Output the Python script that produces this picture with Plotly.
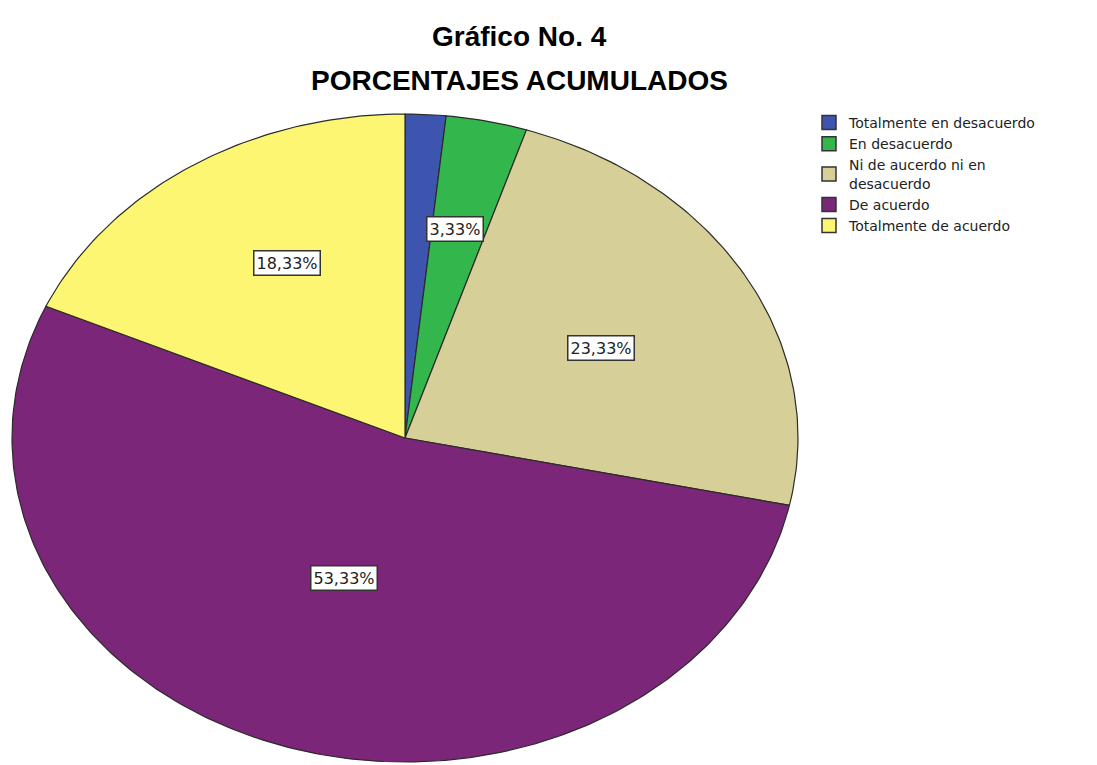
import numpy as np
import plotly.graph_objects as go

# Respuestas (porcentaje de encuestados, n = 60)
categorias = [
    "Totalmente en desacuerdo",
    "En desacuerdo",
    "Ni de aucerdo ni en desacuerdo",
    "De acuerdo",
    "Totalmente de acuerdo",
]
porcentajes = [1.67, 3.33, 23.33, 53.33, 18.33]
mostrar_etiqueta = [False, True, True, True, True]

# Estilo
colores = ["#3d55ae", "#33b64b", "#d6cf98", "#7b2678", "#fcf672"]
radio_etiqueta = [0.65, 0.657, 0.571, 0.459, 0.618]
desfase_etiqueta = [0.0, -0.9, 0.9, 1.7, 4.0]   # grados respecto al centro del sector

W, H = 1097, 765
cx, cy = 405, 438          # centro del pastel en píxeles
rx, ry = 393, 324          # semiejes del pastel en píxeles

fig = go.Figure()

total = sum(porcentajes)
acum = 0.0
for nombre, valor, color, mostrar, fr, dg in zip(categorias, porcentajes, colores,
                                                 mostrar_etiqueta, radio_etiqueta,
                                                 desfase_etiqueta):
    a0 = acum / total * 2 * np.pi
    acum += valor
    a1 = acum / total * 2 * np.pi
    n = max(4, int(np.ceil((a1 - a0) / (2 * np.pi) * 400)))
    t = np.linspace(a0, a1, n)
    xs = np.concatenate([[0], np.sin(t), [0]])
    ys = np.concatenate([[0], np.cos(t), [0]])
    fig.add_trace(go.Scatter(
        x=xs, y=ys, mode="lines", fill="toself", fillcolor=color,
        line=dict(color="#2b2b2b", width=1.2), showlegend=False,
        hoverinfo="skip",
    ))
    # entrada de leyenda
    fig.add_trace(go.Scatter(
        x=[None], y=[None], mode="markers", name=nombre.replace("ni en ", "ni en<br>"),
        marker=dict(symbol="square", size=14, color=color,
                    line=dict(color="#333333", width=1.5)),
    ))
    if mostrar:
        am = (a0 + a1) / 2 + np.radians(dg)
        texto = f"{valor:.2f}".replace(".", ",") + "%"
        fig.add_annotation(
            x=fr * np.sin(am), y=fr * np.cos(am), text=texto, showarrow=False,
            font=dict(family="DejaVu Sans", size=16, color="#222222"),
            bgcolor="white", bordercolor="#333333", borderwidth=1.5, borderpad=2,
        )

# Títulos
for texto, ypx in [("<b>Gráfico No. 4</b>", 36), ("<b>PORCENTAJES ACUMULADOS</b>", 81)]:
    fig.add_annotation(x=519 / W, y=1 - ypx / H, xref="paper", yref="paper",
                       xanchor="center", yanchor="middle",
                       text=texto, showarrow=False,
                       font=dict(family="Liberation Sans", size=28, color="black"))

fig.update_layout(
    width=W, height=H,
    margin=dict(l=0, r=0, t=0, b=0),
    paper_bgcolor="white", plot_bgcolor="white",
    xaxis=dict(range=[-cx / rx, (W - cx) / rx], visible=False, fixedrange=True),
    yaxis=dict(range=[-(H - cy) / ry, cy / ry], visible=False, fixedrange=True),
    legend=dict(x=809 / W, y=1 - 107 / H, xanchor="left", yanchor="top",
                bgcolor="rgba(0,0,0,0)", tracegroupgap=0,
                font=dict(family="DejaVu Sans", size=14, color="#222222")),
    showlegend=True,
)

fig.write_html("out.html")
